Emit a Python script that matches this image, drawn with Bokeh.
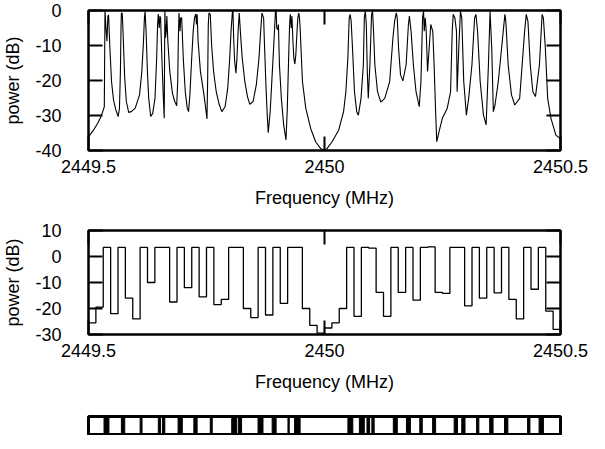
from bokeh.plotting import figure
from bokeh.layouts import column
from bokeh.models import FixedTicker, LinearAxis, Range1d, NumeralTickFormatter, CustomJSTickFormatter
from bokeh.embed import file_html
from bokeh.resources import INLINE

FONT = "Liberation Sans"
F_START = 2449.5          # MHz, left edge of the span
F_STOP = 2450.5           # MHz

x_ticks = [2449.5, 2450.0, 2450.5]
top_y_ticks = [0, -10, -20, -30, -40]
mid_y_ticks = [10, 0, -10, -20, -30]

# Top panel: measured spectrum, (offset from 2449.5 MHz in kHz, power in dB)
spectrum_points = [
    (0, -36.1), (10.5, -34.2), (19.5, -32.2), (26.5, -30.3), (31.4, -28.4), (33.5, -27.5),
    (34.9, 0.0), (37.0, -5.0), (39.1, -8.8), (41.1, -1.6), (42.5, -1.3),
    (45.3, -10.7), (48.8, -20.3), (53.0, -25.6), (57.9, -28.4), (62.8, -30.3),
    (65.6, -27.9), (67.6, -17.4), (69.0, -4.0), (69.7, -0.7), (71.1, -0.7), (71.8, -1.6),
    (73.9, -8.8), (76.7, -19.3), (80.2, -26.0), (85.1, -29.1), (90.7, -28.9), (99.0, -27.9),
    (108.1, -24.1), (113.0, -17.4), (116.5, -8.8), (118.5, -2.1), (119.9, -0.2),
    (122.0, -5.9), (124.8, -17.4), (127.6, -25.1), (131.8, -30.3),
    (136.0, -29.4), (140.9, -25.1), (144.4, -13.6), (146.4, -4.0), (147.8, -1.0),
    (149.9, -5.0), (151.3, -1.6), (152.7, -2.1),
    (155.5, -13.6), (158.3, -24.1), (160.4, -30.8), (161.1, -15.5), (161.8, 0.0),
    (163.2, -7.8), (164.6, -5.9), (166.0, -1.6),
    (168.1, -8.8), (172.2, -17.4), (177.8, -23.6), (182.7, -26.0), (186.9, -27.2),
    (189.0, -20.3), (190.4, -7.8), (191.8, -0.7), (193.9, -5.9), (195.3, -2.1), (197.4, -2.1),
    (200.8, -13.6), (205.0, -23.2), (209.2, -27.9), (212.0, -28.9),
    (214.8, -24.1), (218.3, -14.5), (221.8, -5.9), (224.5, -2.1), (227.3, -1.0),
    (228.7, -4.0), (230.1, -1.1),
    (232.2, -8.8), (237.1, -17.4), (244.1, -23.6), (248.3, -27.9), (251.0, -31.0),
    (252.4, -20.3), (253.8, -4.0), (255.2, -0.7), (258.0, -1.1),
    (260.8, -9.8), (265.0, -17.4), (270.6, -23.2), (276.8, -26.8), (282.4, -28.9),
    (289.4, -27.5), (295.0, -22.2), (299.2, -13.6), (302.0, -5.9), (304.7, -0.7), (306.1, 0.0),
    (307.5, -7.8), (309.6, -14.5), (312.4, -17.9), (314.5, -13.6), (317.3, -5.0), (319.4, -0.7),
    (322.2, -6.9), (325.7, -13.6), (331.2, -20.3), (336.8, -24.6), (341.7, -26.8),
    (348.7, -26.0), (355.6, -21.2), (361.2, -13.6), (364.7, -5.9), (367.5, -0.7),
    (369.6, -1.6), (371.0, -2.1),
    (373.1, -10.7), (375.9, -21.2), (378.7, -29.9), (380.8, -34.9),
    (384.9, -28.9), (389.1, -18.4), (393.3, -7.8), (396.1, -0.2), (397.5, 0.0),
    (398.9, -5.0), (401.0, -5.5), (402.4, -4.0),
    (404.5, -15.5), (408.6, -25.1), (413.5, -32.7), (418.4, -37.0),
    (421.2, -27.9), (424.0, -13.6), (426.1, -4.0), (427.5, -1.1), (429.6, -5.0), (431.0, -1.6),
    (433.1, -8.8), (435.1, -13.6), (437.2, -15.3),
    (439.3, -12.6), (441.4, -6.9), (443.5, -2.1), (445.6, -0.7), (447.0, -2.1), (448.4, -5.0),
    (450.5, -11.7), (453.3, -20.3), (460.3, -27.9), (470.7, -33.7), (481.2, -37.5),
    (491.6, -39.4), (500.0, -40.0),
    (505.6, -39.4), (516.0, -37.5), (530.0, -34.2), (540.4, -28.9), (545.3, -23.2),
    (549.5, -13.6), (552.3, -2.1), (554.4, -1.1), (556.5, -3.1),
    (559.3, -10.7), (563.5, -23.2), (568.3, -28.9), (571.8, -29.9),
    (577.4, -25.1), (582.3, -15.5), (584.4, -2.1), (586.5, -0.2), (588.6, -4.0),
    (590.7, -17.4), (592.7, -25.1),
    (596.2, -15.5), (599.7, -1.1), (601.8, -0.2),
    (603.9, -5.9), (606.7, -15.5), (612.3, -23.2), (619.3, -26.2),
    (627.6, -25.1), (638.1, -20.3), (645.0, -7.8), (648.5, -3.1), (652.0, -0.7), (654.1, -2.1),
    (656.9, -10.7), (661.1, -18.4), (666.0, -20.1),
    (672.9, -15.5), (677.8, -4.0), (679.9, -1.6),
    (683.4, -5.9), (688.3, -15.5), (693.9, -23.2), (700.8, -27.5),
    (704.3, -20.3), (707.8, -2.1), (709.9, -0.2), (711.3, -5.9), (713.4, -2.1), (715.5, -5.9),
    (718.3, -17.4),
    (721.8, -10.7), (725.2, -4.0), (727.3, -5.0), (729.4, -5.9),
    (732.2, -15.5), (735.7, -29.9), (737.8, -37.5),
    (742.7, -34.6), (749.7, -30.8), (760.1, -27.9), (767.1, -23.2), (770.6, -5.9),
    (772.7, -1.1), (776.2, -2.1), (779.6, -5.9),
    (781.0, -23.2),
    (784.5, -10.7), (788.0, -0.2), (790.8, -2.1),
    (795.0, -20.3), (800.6, -29.9),
    (805.4, -25.1), (812.4, -15.5), (818.0, -2.1), (820.8, -1.1),
    (824.3, -5.9), (829.8, -20.3), (836.8, -29.9), (842.4, -32.7),
    (847.3, -15.5), (850.8, -0.2),
    (854.3, -10.7), (857.7, -28.9),
    (861.2, -27.0), (868.2, -20.3), (875.2, -10.7), (882.2, -1.1), (884.2, -3.1),
    (889.1, -15.5), (896.1, -24.1), (903.1, -27.0),
    (913.5, -25.1), (924.0, -5.9), (927.5, -1.1), (931.0, -3.1),
    (935.9, -15.5), (941.4, -23.2), (947.0, -24.6),
    (955.4, -15.5), (961.0, -1.1), (963.7, -2.1),
    (967.9, -10.7), (972.8, -25.1), (979.8, -30.8), (990.2, -35.6), (999.3, -36.6),
]

# Middle panel: power per 1/64 MHz channel (dB), channels 0..63
channel_power_db = [
    -25.5, -19.5, 3.5, -22, 3.5, -16, -24, 3.5, -10, 3.5, 3.5, -17.5, 3.5, -12, 3.5, -15.5,
    3.5, -18.5, -16.5, 3.5, 3.5, -20, -23.5, 3.5, -22.5, 3.5, -18, 3.5, 3.5, -20, -26.5, -29.5,
    -27.5, -25.5, -20, 3.5, -23, 3.5, 3.2, -13.8, -23, 3.5, -13.8, 3.5, -16.8, 3.5, 3.7, -13.8,
    -14.2, 3.5, 3.5, -19, 3.5, -16, 3.5, -14, 3.5, -16.5, -24, 3.5, -12.6, 3.5, -21, -28,
]

# Bottom strip: black bars, (start, end) as fraction of the 1 MHz span
strip_bars = [
    (0.0329, 0.0433), (0.0697, 0.0768), (0.1094, 0.1134), (0.1479, 0.1527), (0.1569, 0.1617),
    (0.1898, 0.1987), (0.2232, 0.2301), (0.2580, 0.2621), (0.3034, 0.3138), (0.3174, 0.3243),
    (0.3592, 0.3697), (0.3891, 0.3975), (0.4226, 0.4253), (0.4366, 0.4483),
    (0.5496, 0.5600), (0.5739, 0.5843), (0.5900, 0.5956), (0.6004, 0.6052),
    (0.6458, 0.6542), (0.6736, 0.6820), (0.7019, 0.7071), (0.7291, 0.7354),
    (0.7747, 0.7818), (0.7908, 0.7977), (0.8222, 0.8270), (0.8500, 0.8571),
    (0.8814, 0.8885), (0.9303, 0.9352), (0.9546, 0.9638),
]

spec_f = [F_START + k / 1000.0 for k, _ in spectrum_points]
spec_p = [d for _, d in spectrum_points]

n_ch = len(channel_power_db)
ch_edges = [F_START + (F_STOP - F_START) * i / n_ch for i in range(n_ch + 1)]
ch_vals = channel_power_db + [channel_power_db[-1]]

bar_left = [F_START + a for a, _ in strip_bars]
bar_right = [F_START + b for _, b in strip_bars]

TICK_LEN = 14
FS = "18px"
W = 589


def style_axis(ax, show_labels):
    ax.major_tick_in = TICK_LEN
    ax.major_tick_out = 0
    ax.minor_tick_in = 0
    ax.minor_tick_out = 0
    ax.major_tick_line_width = 2
    ax.major_tick_line_color = "black"
    ax.axis_line_width = 2
    ax.axis_line_color = "black"
    ax.major_label_text_font = FONT
    ax.major_label_text_color = "black"
    ax.axis_label_text_font = FONT
    ax.axis_label_text_font_style = "normal"
    ax.axis_label_text_color = "black"
    ax.axis_label_text_font_size = FS
    ax.major_label_text_font_size = FS
    if not show_labels:
        ax.formatter = CustomJSTickFormatter(code="return ''")
        ax.major_label_standoff = 0


def make_panel(ymin, ymax, yticks, height, top_border, bottom_border):
    p = figure(width=W, height=height,
               x_range=Range1d(F_START, F_STOP), y_range=Range1d(ymin, ymax),
               output_backend="svg", toolbar_location=None,
               x_axis_location=None, y_axis_location=None,
               min_border_left=82, min_border_right=29,
               min_border_top=top_border, min_border_bottom=bottom_border,
               background_fill_color="white", border_fill_color="white")
    p.outline_line_color = "black"
    p.outline_line_width = 2

    left = LinearAxis(ticker=FixedTicker(ticks=yticks), formatter=NumeralTickFormatter(format="0"),
                      axis_label="power (dB)")
    style_axis(left, True)
    left.major_label_standoff = 27
    left.axis_label_standoff = 9
    p.add_layout(left, "left")

    right = LinearAxis(ticker=FixedTicker(ticks=yticks))
    style_axis(right, False)
    p.add_layout(right, "right")

    bottom = LinearAxis(ticker=FixedTicker(ticks=x_ticks), formatter=NumeralTickFormatter(format="0.[0]"),
                        axis_label="Frequency (MHz)")
    style_axis(bottom, True)
    bottom.major_label_standoff = 9
    bottom.axis_label_standoff = 12
    p.add_layout(bottom, "below")

    top = LinearAxis(ticker=FixedTicker(ticks=x_ticks))
    style_axis(top, False)
    p.add_layout(top, "above")
    return p


p1 = make_panel(-40, 0, top_y_ticks, 214, 10, 64)
p1.line(spec_f, spec_p, line_color="black", line_width=1.1)

p2 = make_panel(-30, 10, mid_y_ticks, 184, 16, 64)
p2.step(ch_edges, ch_vals, mode="after", line_color="black", line_width=1.3)

p3 = figure(width=W, height=37,
            x_range=Range1d(F_START, F_STOP), y_range=Range1d(0, 1),
            output_backend="svg", toolbar_location=None,
            x_axis_location=None, y_axis_location=None,
            min_border_left=82, min_border_right=29, min_border_top=18, min_border_bottom=1,
            background_fill_color="white", border_fill_color="white")
p3.outline_line_color = "black"
p3.outline_line_width = 3
p3.quad(left=bar_left, right=bar_right, bottom=0, top=1, fill_color="black", line_color="black")

for p in (p1, p2, p3):
    p.xgrid.visible = False
    p.ygrid.visible = False

layout = column(p1, p2, p3, spacing=0)

with open("out.html", "w") as f:
    f.write(file_html(layout, INLINE))
